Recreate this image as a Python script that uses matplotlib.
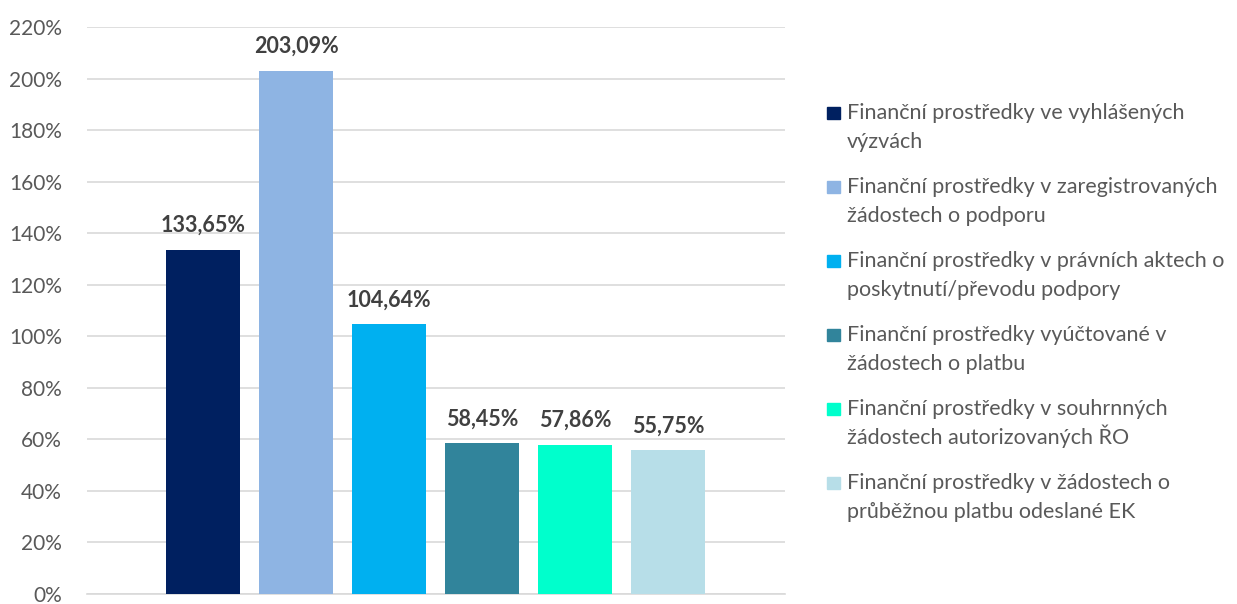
import numpy as np
import matplotlib.pyplot as plt
from matplotlib.patches import Rectangle
from matplotlib.ticker import FuncFormatter

plt.rcParams['font.family'] = ['Lato', 'DejaVu Sans']

# series names (legend lines as wrapped in the original)
labels = [
    ["Finanční prostředky ve vyhlášených", "výzvách"],
    ["Finanční prostředky v zaregistrovaných", "žádostech o podporu"],
    ["Finanční prostředky v právních aktech o", "poskytnutí/převodu podpory"],
    ["Finanční prostředky vyúčtované v", "žádostech o platbu"],
    ["Finanční prostředky v souhrnných", "žádostech autorizovaných ŘO"],
    ["Finanční prostředky v žádostech o", "průběžnou platbu odeslané EK"],
]
values = [133.65, 203.09, 104.64, 58.45, 57.86, 55.75]
colors = ['#002060', '#8EB4E3', '#00B0F0', '#31849B', '#00FFCC', '#B7DEE8']
yticks = np.arange(0, 221, 20)

W, H = 1237, 604
fig = plt.figure(figsize=(W / 100, H / 100), dpi=100)
ax = fig.add_axes([87 / W, (H - 594) / H, (785 - 87) / W, (594 - 27) / H])

x = np.arange(len(values))
ax.bar(x, values, width=0.8, color=colors, zorder=3)

# data labels
for xi, v in zip(x, values):
    ax.annotate(f"{v:.2f}".replace('.', ',') + '%', (xi, v), xytext=(0, 13),
                textcoords='offset points', ha='center', va='baseline',
                fontsize=15.5, fontweight='bold', color='#404040')

ax.set_ylim(0, 220)
ax.set_xlim(-1.25, 6.26)
ax.set_yticks(yticks)
ax.yaxis.set_major_formatter(FuncFormatter(lambda v, p: f"{v:.0f}%"))
ax.tick_params(axis='y', length=0, pad=18, labelsize=15, labelcolor='#595959')
ax.set_xticks([])
ax.grid(axis='y', color='#D9D9D9', linewidth=1.2, zorder=0)
for s in ['top', 'right', 'left']:
    ax.spines[s].set_visible(False)
ax.spines['bottom'].set_color('#D9D9D9')
ax.spines['bottom'].set_linewidth(1.2)

# legend drawn by hand so the square sits at the first text line
for i, (lines, c) in enumerate(zip(labels, colors)):
    base = 119 + 74 * i
    fig.add_artist(Rectangle((827 / W, (H - base + 0) / H), 13 / W, 12 / H,
                             transform=fig.transFigure, color=c))
    for j, line in enumerate(lines):
        fig.text(847 / W, (H - base - 28.5 * j) / H, line, ha='left', va='baseline',
                 fontsize=15.5, color='#595959')

fig.savefig('out.png', dpi=100)
